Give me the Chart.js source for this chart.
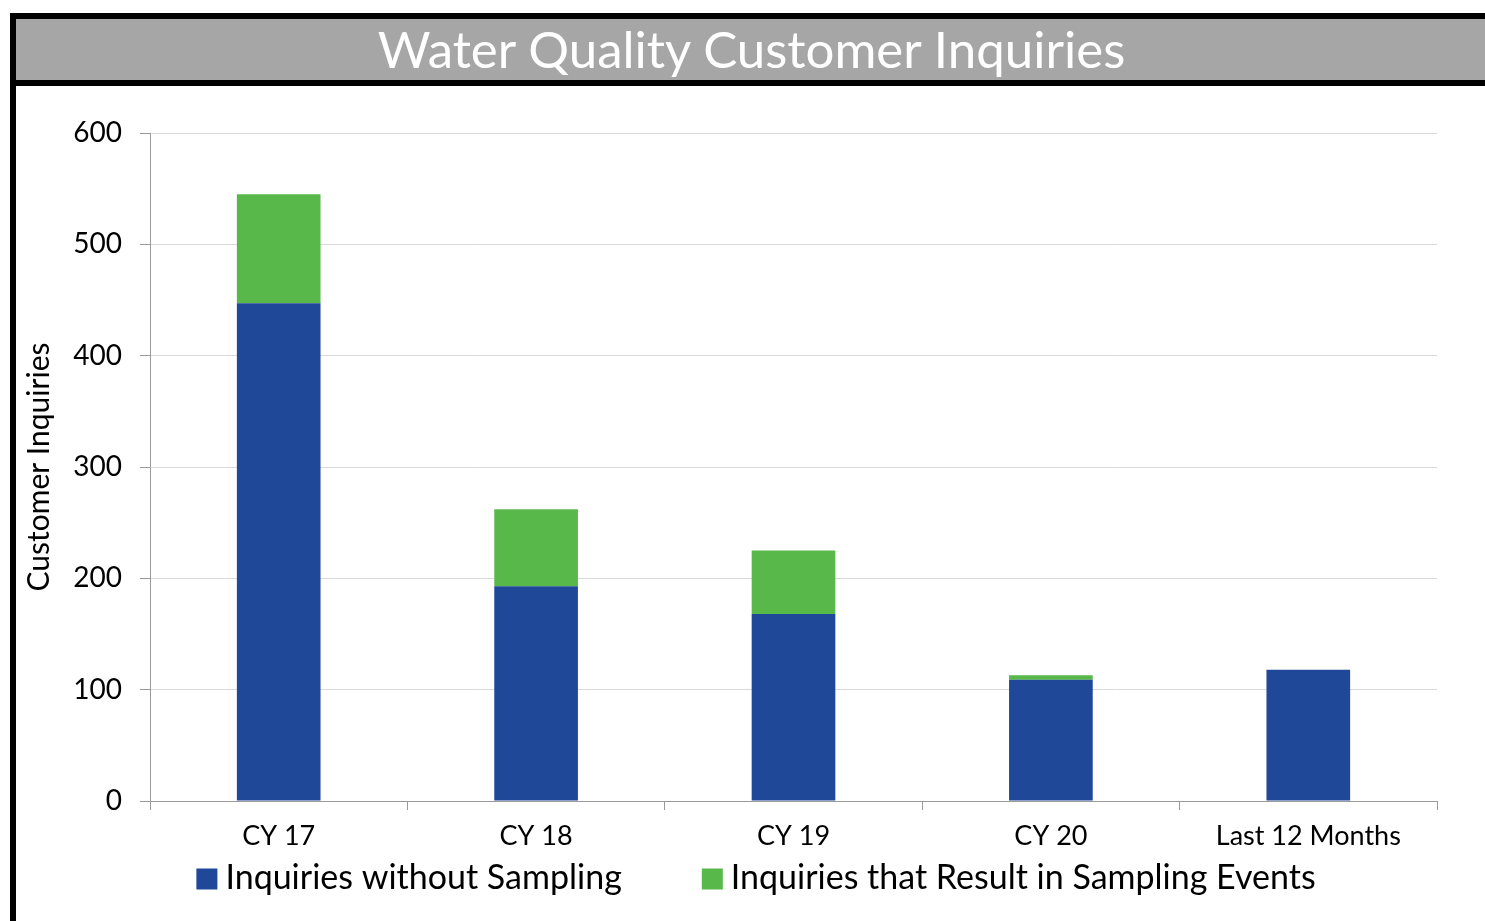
<!DOCTYPE html>
<html>
<head>
<meta charset="utf-8">
<script src="https://cdn.jsdelivr.net/npm/chart.js@4.4.0/dist/chart.umd.min.js"></script>
<style>
  html, body { margin: 0; padding: 0; background: #fff; width: 1485px; height: 921px; overflow: hidden; font-family: Lato, "Open Sans", sans-serif; }
  #titlebar { position: absolute; left: 10px; top: 13px; width: 1475px; height: 61px; background: #a6a6a6; border-top: 6px solid #000; border-bottom: 6px solid #000; border-left: 6px solid #000; box-sizing: content-box; color: #fff; font-size: 51px; line-height: 61px; text-align: center; white-space: nowrap; }
  #leftbar { position: absolute; left: 10px; top: 13px; width: 6px; height: 908px; background: #000; }
  #wrap { position: absolute; left: 16px; top: 86px; width: 1469px; height: 835px; }
</style>
</head>
<body>
<div id="titlebar"><span style="position:relative;left:-2px;top:-1px">Water Quality Customer Inquiries</span></div>
<div id="leftbar"></div>
<div id="wrap"><canvas id="c" width="1469" height="835"></canvas></div>
<script>
const categories = ["CY 17", "CY 18", "CY 19", "CY 20", "Last 12 Months"];
const withoutSampling = [447, 193, 168, 109, 118];
const withSampling = [98, 69, 57, 4, 0];
const yTicks = [0, 100, 200, 300, 400, 500, 600];

const FONT = "Lato, 'Open Sans', sans-serif";

// Legend drawn on the canvas from the chart's own datasets
const bottomLegend = {
  id: 'bottomLegend',
  afterDraw(chart) {
    const ctx = chart.ctx;
    const ds = chart.data.datasets;
    const fontSize = 34, box = 21, gapText = 8, gapItem = 80;
    ctx.save();
    ctx.font = fontSize + "px " + FONT;
    const widths = ds.map(d => ctx.measureText(d.label).width);
    let total = 0;
    widths.forEach((w, i) => { total += box + gapText + w + (i < ds.length - 1 ? gapItem : 0); });
    const cx = 740, cy = 792;
    let x = cx - total / 2;
    ctx.textBaseline = 'middle';
    ctx.textAlign = 'left';
    ds.forEach((d, i) => {
      ctx.fillStyle = d.backgroundColor;
      ctx.fillRect(x, cy - box / 2 + 1, box, box);
      x += box + gapText;
      ctx.fillStyle = '#000';
      ctx.fillText(d.label, x, cy);
      x += widths[i] + gapItem;
    });
    ctx.restore();
  }
};

new Chart(document.getElementById('c'), {
  type: 'bar',
  data: {
    labels: categories,
    datasets: [
      { label: "Inquiries without Sampling", data: withoutSampling, backgroundColor: "#1f4898", borderWidth: 0, barPercentage: 0.65, categoryPercentage: 0.5 },
      { label: "Inquiries that Result in Sampling Events", data: withSampling, backgroundColor: "#58b84a", borderWidth: 0, barPercentage: 0.65, categoryPercentage: 0.5 }
    ]
  },
  plugins: [bottomLegend],
  options: {
    responsive: false,
    animation: false,
    layout: { padding: { left: 0, right: 48, top: 47, bottom: 60 } },
    plugins: {
      legend: { display: false },
      tooltip: { enabled: false }
    },
    scales: {
      x: {
        stacked: true,
        afterFit: (s) => { s.height = 60; },
        grid: { display: true, drawOnChartArea: false, color: '#9a9a9a', tickLength: 9, offset: true },
        border: { display: true, color: '#9a9a9a', width: 1 },
        ticks: { font: { family: FONT, size: 27 }, color: '#000', padding: 10, maxRotation: 0 }
      },
      y: {
        stacked: true,
        min: 0, max: 600,
        afterBuildTicks: (s) => { s.ticks = yTicks.map(v => ({ value: v })); },
        afterFit: (s) => { s.width = 134; },
        grid: { color: '#d9d9d9', tickLength: 10, tickColor: '#9a9a9a' },
        border: { display: true, color: '#9a9a9a', width: 1 },
        ticks: { font: { family: FONT, size: 28 }, color: '#000', padding: 18 },
        title: { display: true, text: "Customer Inquiries", font: { family: FONT, size: 30 }, color: '#000', padding: { top: 5, bottom: 0 } }
      }
    }
  }
});
</script>
</body>
</html>
